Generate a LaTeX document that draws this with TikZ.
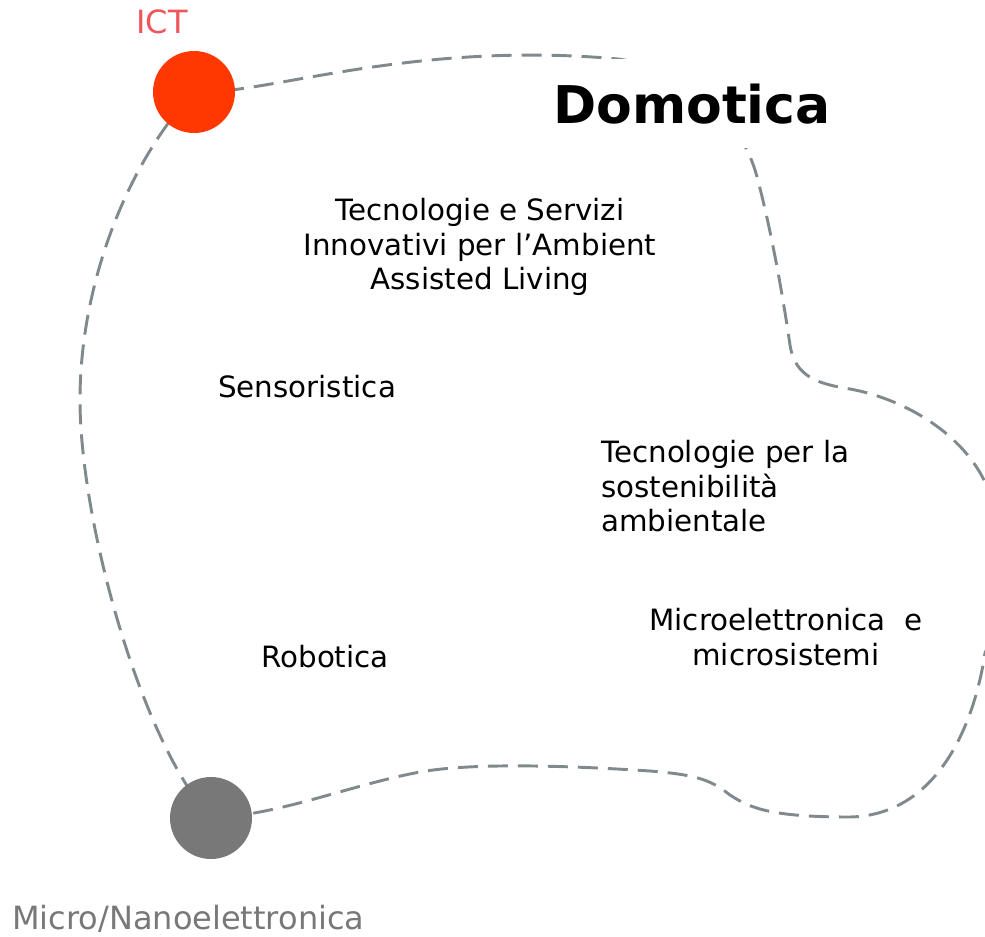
\documentclass[tikz,border=0pt]{standalone}
\usepackage{fontspec}
\setmainfont{DejaVu Sans}
\usepackage{tikz}
\usetikzlibrary{positioning}
\definecolor{DMRed}{RGB}{255,55,0}
\definecolor{DMLabelRed}{RGB}{240,85,90}
\definecolor{DMGray}{RGB}{120,120,120}
\definecolor{DMLine}{RGB}{128,138,142}

\begin{document}
\begin{tikzpicture}[x=0.75pt, y=-0.75pt,
      area/.style={font=\fontsize{22}{25.9}\selectfont, inner sep=0pt},
      pole/.style={circle, minimum size=61.5pt, inner sep=0pt},
      tag/.style={font=\fontsize{24}{28}\selectfont, inner sep=0pt},
      border/.style={draw=DMLine, line width=2.2pt, dash pattern=on 15pt off 7.5pt}
    ]
    \useasboundingbox (0,0) rectangle (985,936);
    \clip (0,0) rectangle (985,936);

    % Poles
    \coordinate (ictc) at (194,92);
    \coordinate (nanoc) at (211,818);

    % Domain border
    \draw[border] (nanoc)
      .. controls (140,740) and (80,520) .. (80,400)
      .. controls (80,280) and (130,160) .. (ictc)
      .. controls (262,96) and (410,40) .. (618,59)
      .. controls (700,70) and (745,130) .. (757,177)
      .. controls (770,225) and (782,290) .. (790,345)
      .. controls (795,378) and (820,384) .. (850,389)
      .. controls (900,398) and (960,430) .. (985,482)
      .. controls (1005,520) and (1005,610) .. (985,653)
      .. controls (975,720) and (940,815) .. (850,817)
      .. controls (770,817) and (750,808) .. (730,795)
      .. controls (712,781) and (700,775) .. (650,771)
      .. controls (560,765) and (470,763) .. (420,772)
      .. controls (350,785) and (280,815) .. (nanoc);

    \node[pole, fill=DMRed] (ict) at (ictc) {};
    \node[pole, fill=DMGray] (nano) at (nanoc) {};

    % Labels of the poles
    \node[tag, text=DMLabelRed, anchor=base] (ictlabel) at (162,33) {ICT};
    \node[tag, text=DMGray, anchor=base west] (nanolabel) at (12,929)
          {Micro/Nanoelettronica};

    % Title
    \node[font=\fontsize{39}{44}\selectfont\bfseries, fill=white,
          inner xsep=6pt, inner ysep=18pt, anchor=base west] (title)
          at (545,123) {Domotica};

    % Areas
    \node[area, align=center] (aal) at (480,247)
          {Tecnologie e Servizi\\Innovativi per l’Ambient\\Assisted Living};
    \node[area, anchor=base west] (sens) at (218,397) {Sensoristica};
    \node[area, align=left, anchor=north west] (sost) at (601,440)
          {Tecnologie per la\\sostenibilità\\ambientale};
    \node[area, align=center, anchor=north] (micro) at (786,608)
          {Microelettronica\ \ e\\microsistemi};
    \node[area, anchor=base] (robot) at (325,667) {Robotica};
  \end{tikzpicture}
\end{document}
